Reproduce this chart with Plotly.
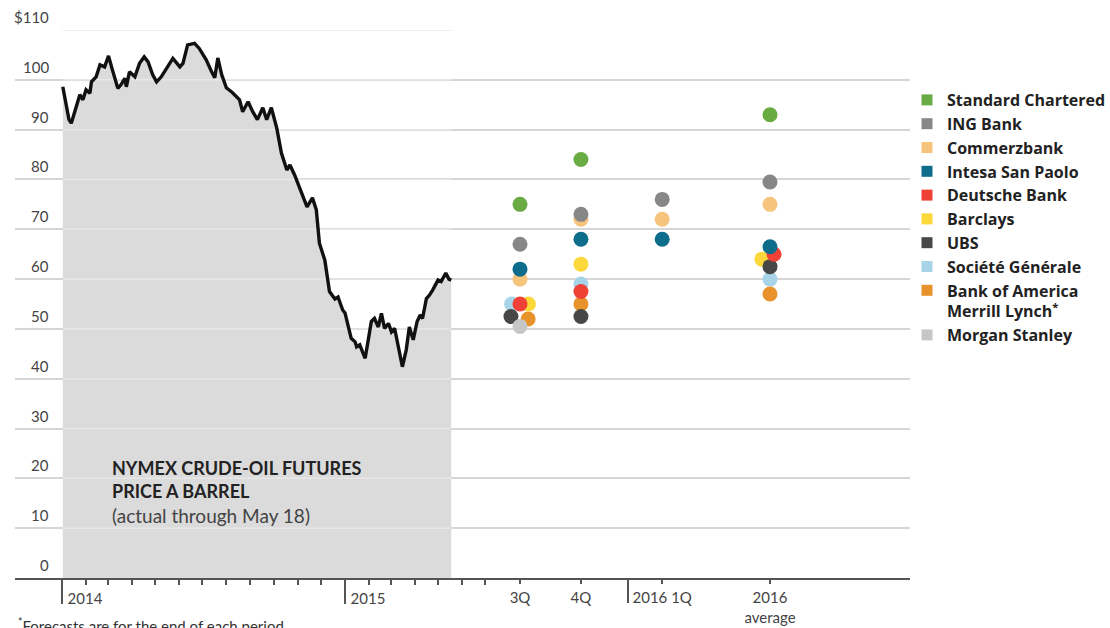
import pandas as pd
import plotly.graph_objects as go

# ---------------- data ----------------
price_dates = [
    "2014-01-02", "2014-01-06", "2014-01-10", "2014-01-13", "2014-01-17", "2014-01-24", "2014-01-28",
    "2014-02-01", "2014-02-06", "2014-02-08", "2014-02-14", "2014-02-19", "2014-02-25", "2014-03-02",
    "2014-03-07", "2014-03-14", "2014-03-18", "2014-03-23", "2014-03-25", "2014-03-29", "2014-04-05",
    "2014-04-11", "2014-04-17", "2014-04-22", "2014-04-28", "2014-05-03", "2014-05-09", "2014-05-16",
    "2014-05-24", "2014-06-02", "2014-06-06", "2014-06-12", "2014-06-21", "2014-06-27", "2014-07-06",
    "2014-07-13", "2014-07-17", "2014-07-21", "2014-07-26", "2014-08-01", "2014-08-09", "2014-08-18",
    "2014-08-22", "2014-08-29", "2014-09-04", "2014-09-10", "2014-09-17", "2014-09-22", "2014-09-28",
    "2014-10-05", "2014-10-11", "2014-10-18", "2014-10-22", "2014-10-28", "2014-11-04", "2014-11-13",
    "2014-11-20", "2014-11-25", "2014-11-29", "2014-12-06", "2014-12-12", "2014-12-19", "2014-12-23",
    "2014-12-29", "2015-01-01", "2015-01-05", "2015-01-09", "2015-01-14", "2015-01-16", "2015-01-20",
    "2015-01-27", "2015-01-31", "2015-02-04", "2015-02-08", "2015-02-13", "2015-02-17", "2015-02-21",
    "2015-02-26", "2015-03-02", "2015-03-06", "2015-03-10", "2015-03-16", "2015-03-21", "2015-03-25",
    "2015-03-30", "2015-04-04", "2015-04-08", "2015-04-11", "2015-04-16", "2015-04-20", "2015-04-24",
    "2015-05-01", "2015-05-05", "2015-05-11", "2015-05-15", "2015-05-18",
]
price_values = [
    98.6, 95.0, 92.0, 91.3, 93.6, 97.0, 96.0,
    98.0, 97.3, 99.6, 100.6, 103.0, 102.6, 104.8,
    102.0, 98.3, 99.0, 100.3, 98.6, 101.6, 100.6,
    103.3, 104.6, 103.6, 101.0, 99.6, 100.6, 102.3,
    104.3, 102.6, 103.3, 107.0, 107.3, 106.3, 104.0,
    101.6, 100.4, 104.4, 101.0, 98.4, 97.4, 96.0,
    93.6, 95.6, 93.6, 92.0, 94.4, 92.0, 94.4,
    90.3, 85.3, 81.9, 82.9, 80.9, 77.9, 74.5,
    76.3, 73.9, 67.2, 63.8, 57.5, 56.0, 56.4,
    53.8, 53.2, 50.4, 48.1, 47.4, 46.4, 46.8,
    44.1, 47.8, 51.5, 52.1, 50.4, 53.1, 50.1,
    51.1, 49.4, 50.1, 47.1, 42.4, 45.8, 50.4,
    47.8, 51.5, 52.8, 52.1, 56.1, 56.8, 57.8,
    59.8, 59.5, 61.2, 60.0, 59.8,
]

periods = ["3Q", "4Q", "2016 1Q", "2016 average"]
period_labels = ["3Q", "4Q", "2016 1Q", "2016<br>average"]

banks = ["Standard Chartered", "ING Bank", "Commerzbank", "Intesa San Paolo", "Deutsche Bank",
         "Barclays", "UBS", "Société Générale", "Bank of America<br>Merrill Lynch<sup>*</sup>",
         "Morgan Stanley"]
standard_chartered = [75, 84, None, 93]
ing_bank = [67, 73, 76, 79.5]
commerzbank = [60, 72, 72, 75]
intesa = [62, 68, 68, 66.5]
deutsche = [55, 57.5, None, 65]
barclays = [55, 63, None, 64]
ubs = [52.5, 52.5, None, 62.5]
societe = [55, 59, None, 60]
bofa = [52, 55, None, 57]
morgan = [50.5, None, None, None]
forecasts = [standard_chartered, ing_bank, commerzbank, intesa, deutsche,
             barclays, ubs, societe, bofa, morgan]

y_ticks = [0, 10, 20, 30, 40, 50, 60, 70, 80, 90, 100, 110]
y_tick_labels = ["0", "10", "20", "30", "40", "50", "60", "70", "80", "90", "100", "$110"]
year_ticks = ["2014-01-01", "2015-01-01"]
year_labels = ["2014", "2015"]

# ---------------- styles / layout ----------------
colors = ["#6aac44", "#878787", "#f7c47d", "#0f6d8c", "#ef4136",
          "#fdd83a", "#474747", "#a8d4e8", "#e8922b", "#c6c6c6"]
draw_order = [2, 1, 7, 5, 8, 6, 4, 3, 0, 9]
slot_pos = [0, 1.95, 4.55, 8]
divider_pos = 3.45
nudge = {(7, 0): -0.27, (5, 0): 0.27, (6, 0): -0.29, (8, 0): 0.26,
         (4, 3): 0.13, (5, 3): -0.26}

W, H = 1110, 628
L, R, T, B = 15, 910, 30, 578
px_per_day = 283 / 365
t2014 = pd.Timestamp("2014-01-01")
x_left = t2014 - pd.Timedelta(days=(62 - L) / px_per_day)
x_right = t2014 + pd.Timedelta(days=(R - 62) / px_per_day)
slot_px = 31.25
x2_range = [(L - 520) / slot_px, (R - 520) / slot_px]

def px_x(p):
    return (p - L) / (R - L)

def px_y(p):
    return (B - p) / (B - T)

label_font = dict(family="Lato", size=15, color="#444")

fig = go.Figure()

# area + line
fig.add_trace(go.Scatter(x=price_dates, y=price_values, mode="none", fill="tozeroy",
                         fillcolor="#dbdbdb", showlegend=False, hoverinfo="skip"))
gx, gy = [], []
for v in y_ticks[1:]:
    gx += [price_dates[0], price_dates[-1], None]
    gy += [v, v, None]
fig.add_trace(go.Scatter(x=gx, y=gy, mode="lines", line=dict(color="#e7e7e7", width=1.5),
                         showlegend=False, hoverinfo="skip"))
fig.add_trace(go.Scatter(x=price_dates, y=price_values, mode="lines",
                         line=dict(color="#111", width=3.4), showlegend=False))

# forecast dots
for i in draw_order:
    xs, ys = [], []
    for j, v in enumerate(forecasts[i]):
        if v is None:
            continue
        xs.append(slot_pos[j] + nudge.get((i, j), 0))
        ys.append(v)
    fig.add_trace(go.Scatter(x=xs, y=ys, xaxis="x2", yaxis="y", mode="markers",
                             marker=dict(size=15, color=colors[i], line=dict(width=0)),
                             showlegend=False, name=banks[i]))

# legend entries
for i, b in enumerate(banks):
    fig.add_trace(go.Scatter(x=[None], y=[None], mode="markers", name=b, legendgroup=b,
                             marker=dict(symbol="square", size=11, color=colors[i]),
                             showlegend=True))

annotations = []
for v, lab in zip(y_ticks, y_tick_labels):
    annotations.append(dict(x=px_x(51), xref="paper", y=v, yref="y", text=lab,
                            xanchor="right", yanchor="bottom", yshift=2, showarrow=False,
                            font=label_font))
annotations.append(dict(x=px_x(110), xref="paper", y=px_y(455), yref="paper",
                        text="NYMEX CRUDE-OIL FUTURES<br>PRICE A BARREL",
                        xanchor="left", yanchor="top", align="left", showarrow=False,
                        font=dict(family="Lato", size=18, color="#222", weight=700)))
annotations.append(dict(x=px_x(110), xref="paper", y=px_y(502), yref="paper",
                        text="(actual through May 18)",
                        xanchor="left", yanchor="top", align="left", showarrow=False,
                        font=dict(family="Lato", size=19, color="#444")))
annotations.append(dict(x=px_x(16), xref="paper", y=px_y(614), yref="paper",
                        text="<sup>*</sup>Forecasts are for the end of each period.",
                        xanchor="left", yanchor="top", align="left", showarrow=False,
                        font=dict(family="Lato", size=15, color="#333")))

fig.update_layout(
    width=W, height=H,
    margin=dict(l=L, r=W - R, t=T, b=H - B, autoexpand=False),
    paper_bgcolor="white", plot_bgcolor="white",
    xaxis=dict(type="date", range=[x_left, x_right], tickmode="array",
               tickvals=year_ticks, ticktext=year_labels, automargin=False,
               ticks="outside", ticklen=24, tickwidth=2, tickcolor="#555",
               ticklabelposition="outside", ticklabelshift=23, ticklabelstandoff=-18,
               tickfont=label_font, showline=True, linecolor="#555", linewidth=1.5,
               showgrid=False, zeroline=False,
               minor=dict(tickmode="array",
                          tickvals=list(pd.date_range("2014-02-01", "2015-07-01", freq="MS")),
                          ticks="outside", ticklen=5, tickwidth=1.5, tickcolor="#555",
                          showgrid=False)),
    xaxis2=dict(overlaying="x", anchor="y", side="bottom", type="linear", range=x2_range,
                tickmode="array", tickvals=slot_pos, ticktext=period_labels,
                ticks="outside", ticklen=5, tickwidth=1.5, tickcolor="#555",
                ticklabelstandoff=1, automargin=False,
                tickfont=label_font, showline=False, showgrid=False, zeroline=False,
                minor=dict(tickmode="array", tickvals=[divider_pos], ticks="outside",
                           ticklen=24, tickwidth=2, tickcolor="#555", showgrid=False)),
    yaxis=dict(range=[0, 110], tickmode="array", tickvals=y_ticks, showticklabels=False,
               showgrid=True, gridcolor="#d6d6d6", gridwidth=1.5, zeroline=False,
               ticks="", automargin=False),
    legend=dict(x=px_x(907), xanchor="left", y=px_y(83), yanchor="top",
                traceorder="grouped", tracegroupgap=0, valign="top",
                font=dict(family="Open Sans", size=16, color="#222", weight=700),
                bgcolor="rgba(0,0,0,0)", borderwidth=0, itemclick=False),
    annotations=annotations,
    showlegend=True,
)

fig.write_html("out.html")
